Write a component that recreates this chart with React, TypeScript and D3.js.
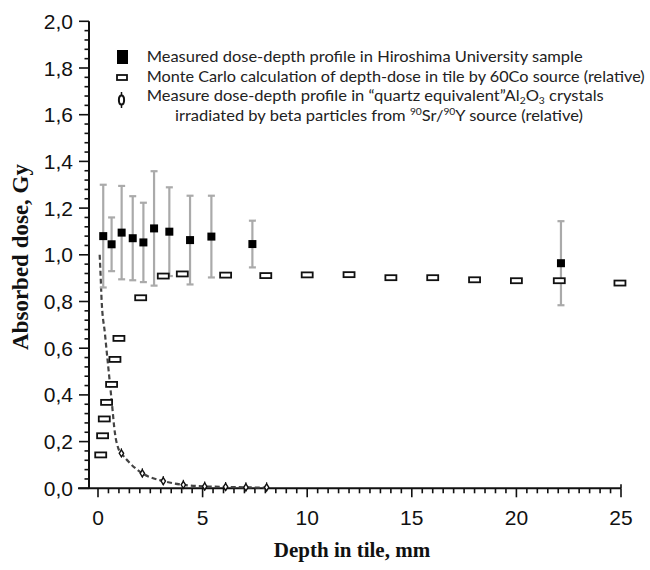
import React from "react";
import * as d3 from "d3";

const measuredDepth = [0.25, 0.65, 1.13, 1.66, 2.17, 2.68, 3.41, 4.4, 5.42, 7.38, 22.13];
const measuredDose = [1.08, 1.045, 1.095, 1.071, 1.053, 1.113, 1.099, 1.063, 1.078, 1.046, 0.964];
const measuredErr = [0.22, 0.115, 0.2, 0.18, 0.17, 0.245, 0.19, 0.19, 0.175, 0.1, 0.18];

const mcDepth = [0.13, 0.22, 0.3, 0.41, 0.65, 0.81, 1.0, 2.04, 3.12, 4.03, 6.1, 8.02, 10.0, 12.0, 14.0, 16.0, 18.0, 20.0, 22.05, 24.95];
const mcDose = [0.143, 0.225, 0.297, 0.368, 0.445, 0.552, 0.642, 0.816, 0.909, 0.918, 0.913, 0.911, 0.914, 0.915, 0.902, 0.902, 0.893, 0.889, 0.889, 0.879];

const betaDepth = [1.12, 2.12, 3.12, 4.08, 5.1, 6.1, 7.07, 8.06];
const betaDose = [0.15, 0.064, 0.031, 0.015, 0.008, 0.006, 0.004, 0.004];

const fitDepth = [0.08, 0.13, 0.17, 0.33, 0.49, 0.65, 0.81, 0.97, 1.12, 1.5, 2.12, 3.12, 4.08, 5.1, 6.1, 7.07, 8.06];
const fitDose = [1.0, 0.9, 0.81, 0.664, 0.52, 0.378, 0.236, 0.171, 0.15, 0.11, 0.064, 0.031, 0.015, 0.008, 0.006, 0.004, 0.003];

const xTicks = [0, 5, 10, 15, 20, 25];
const yTicks = [0, 0.2, 0.4, 0.6, 0.8, 1.0, 1.2, 1.4, 1.6, 1.8, 2.0];

const legendLabels = [
  "Measured dose-depth profile in Hiroshima University sample",
  "Monte Carlo calculation of depth-dose in tile by 60Co source (relative)",
];

export default function App() {
  const W = 650, H = 570;
  const x = d3.scaleLinear().domain([0, 25]).range([98, 621]);
  const y = d3.scaleLinear().domain([0, 2]).range([488.3, 21.3]);
  const axisX0 = 89;
  const fmt = (v: number) => v.toFixed(1).replace(".", ",");

  const xMinor = d3.range(0, 25.001, 0.5);
  const yMinor = d3.range(0, 2.0001, 0.04);

  const line = d3
    .line<number>()
    .x((_, i) => x(fitDepth[i]))
    .y((d) => y(d))
    .curve(d3.curveMonotoneX);

  const sans = "'Liberation Sans', Arial, sans-serif";
  const serif = "'Liberation Serif', 'Times New Roman', serif";
  const legFont = "Lato, 'Open Sans', sans-serif";

  return (
    <svg width={W} height={H} style={{ position: "absolute", left: 0, top: 0, background: "#fff" }}>
      <rect x={0} y={0} width={W} height={H} fill="#fff" />
      {/* axes */}
      <line x1={axisX0} x2={axisX0} y1={y(2)} y2={y(0)} stroke="#111" strokeWidth={2} />
      <line x1={78} x2={x(25)} y1={y(0)} y2={y(0)} stroke="#111" strokeWidth={2} />
      {yMinor.map((v, i) => {
        const major = i % 5 === 0;
        return (
          <line key={"ym" + i} x1={axisX0 - (major ? 10 : 4.5)} x2={axisX0} y1={y(v)} y2={y(v)} stroke="#111" strokeWidth={1.6} />
        );
      })}
      {xMinor.map((v, i) => {
        const major = i % 10 === 0;
        return (
          <line key={"xm" + i} x1={x(v)} x2={x(v)} y1={y(0)} y2={y(0) + (major ? 9 : 5)} stroke="#111" strokeWidth={1.6} />
        );
      })}
      <line x1={x(25)} x2={x(25)} y1={y(0) - 4} y2={y(0)} stroke="#111" strokeWidth={1.6} />
      {yTicks.map((v) => (
        <text key={"yt" + v} x={73} y={y(v)} dy="0.36em" textAnchor="end" fontFamily={sans} fontSize={21} fill="#111">
          {fmt(v)}
        </text>
      ))}
      {xTicks.map((v) => (
        <text key={"xt" + v} x={x(v)} y={525} textAnchor="middle" fontFamily={sans} fontSize={21} fill="#111">
          {v}
        </text>
      ))}
      <text x={352} y={557} textAnchor="middle" fontFamily={serif} fontWeight="bold" fontSize={21} fill="#111">
        Depth in tile, mm
      </text>
      <text
        transform={`translate(28,257) rotate(-90)`}
        textAnchor="middle"
        fontFamily={serif}
        fontWeight="bold"
        fontSize={23}
        fill="#111"
      >
        Absorbed dose, Gy
      </text>

      {/* beta fit curve */}
      <path d={line(fitDose) || ""} fill="none" stroke="#444" strokeWidth={2.2} strokeDasharray="5,3" />
      {betaDepth.map((d, i) => (
        <g key={"b" + i}>
          <line x1={x(d)} x2={x(d)} y1={y(betaDose[i]) - 5} y2={y(betaDose[i]) + 4} stroke="#222" strokeWidth={1.2} />
          <path
            d={`M${x(d)},${y(betaDose[i]) - 3.5} L${x(d) + 2.2},${y(betaDose[i])} L${x(d)},${y(betaDose[i]) + 3.5} L${x(d) - 2.2},${y(betaDose[i])} Z`}
            fill="#fff"
            stroke="#111"
            strokeWidth={1.4}
          />
        </g>
      ))}

      {/* measured error bars */}
      {measuredDepth.map((d, i) => {
        const top = y(measuredDose[i] + measuredErr[i]);
        const bot = y(measuredDose[i] - measuredErr[i]);
        return (
          <g key={"e" + i} stroke="#aaa" strokeWidth={2.2}>
            <line x1={x(d)} x2={x(d)} y1={top} y2={bot} />
            <line x1={x(d) - 3.5} x2={x(d) + 3.5} y1={top} y2={top} />
            <line x1={x(d) - 3.5} x2={x(d) + 3.5} y1={bot} y2={bot} />
          </g>
        );
      })}

      {/* Monte Carlo rects */}
      {mcDepth.map((d, i) => (
        <rect key={"mc" + i} x={x(d) - 5.5} y={y(mcDose[i]) - 2.5} width={11} height={5} fill="#fff" stroke="#111" strokeWidth={1.8} />
      ))}

      {/* measured squares */}
      {measuredDepth.map((d, i) => (
        <rect key={"m" + i} x={x(d) - 4} y={y(measuredDose[i]) - 4} width={8} height={8} fill="#000" />
      ))}

      {/* legend */}
      <rect x={117} y={50} width={11} height={14} fill="#000" />
      <rect x={117} y={75} width={10} height={5} fill="#fff" stroke="#111" strokeWidth={1.8} />
      <line x1={121.5} x2={121.5} y1={92} y2={108} stroke="#111" strokeWidth={1.5} />
      <ellipse cx={121.5} cy={100} rx={2.6} ry={4.5} fill="#fff" stroke="#111" strokeWidth={2} />

      <text x={146.7} y={62} fontFamily={legFont} fontSize={16} fill="#222" textLength={436} lengthAdjust="spacingAndGlyphs">
        {legendLabels[0]}
      </text>
      <text x={146.7} y={81.5} fontFamily={legFont} fontSize={16} fill="#222" textLength={498} lengthAdjust="spacingAndGlyphs">
        {legendLabels[1]}
      </text>
      <text x={146.7} y={101} fontFamily={legFont} fontSize={16} fill="#222" textLength={457} lengthAdjust="spacingAndGlyphs">
        Measure dose-depth profile in “quartz equivalent”Al
        <tspan fontSize={10} dy={3}>2</tspan>
        <tspan dy={-3}>O</tspan>
        <tspan fontSize={10} dy={3}>3</tspan>
        <tspan dy={-3}> crystals</tspan>
      </text>
      <text x={175} y={120.5} fontFamily={legFont} fontSize={16} fill="#222" textLength={408} lengthAdjust="spacingAndGlyphs">
        irradiated by beta particles from{" "}
        <tspan fontSize={10} dy={-6}>90</tspan>
        <tspan dy={6}>Sr/</tspan>
        <tspan fontSize={10} dy={-6}>90</tspan>
        <tspan dy={6}>Y source (relative)</tspan>
      </text>
    </svg>
  );
}
